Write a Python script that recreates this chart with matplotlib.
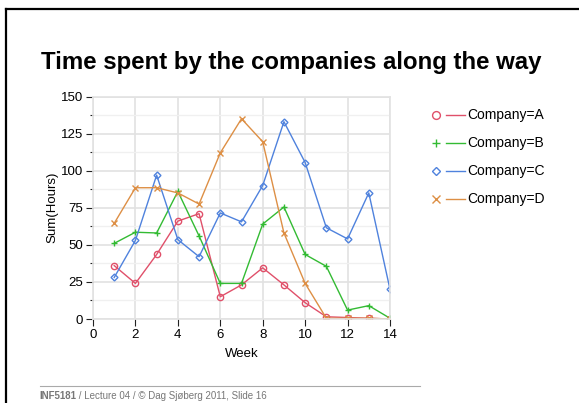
import matplotlib
matplotlib.use("Agg")
import matplotlib.pyplot as plt
from matplotlib.lines import Line2D
from matplotlib.ticker import MultipleLocator

plt.rcParams['font.family'] = ['Liberation Sans', 'DejaVu Sans']

weeks = [1, 2, 3, 4, 5, 6, 7, 8, 9, 10, 11, 12, 13, 14]
company_a = [36, 24, 43.5, 66, 71, 15, 23, 34.5, 23, 11, 1.5, 1, 0.5, 0]
company_b = [51, 58.5, 58, 86, 56, 24, 24, 64, 75.5, 43.5, 35.5, 6, 9, 0.5]
company_c = [28, 53, 97, 53.5, 42, 71.5, 65.5, 90, 133, 105.5, 61.5, 54, 85, 20]
company_d = [64.5, 88.5, 88.5, 85, 77.5, 112, 135, 119.5, 58, 24, 0.5, 0.5, 0.5, 0]

series = [
    ("Company=A", company_a, "#e0506a", "o"),
    ("Company=B", company_b, "#33bb33", "+"),
    ("Company=C", company_c, "#4f82dd", "D"),
    ("Company=D", company_d, "#dd8f45", "x"),
]


def marker_size(mk, big=False):
    base = 4.5 if mk != "D" else 3.5
    return base * (1.25 if big else 1.0)


fig = plt.figure(figsize=(5.79, 4.03), dpi=100)
W, H = 579, 403

# slide frame
fig.add_artist(Line2D([6 / W, 1.0], [1 - 9 / H, 1 - 9 / H], color="black", lw=1.6,
                      transform=fig.transFigure))
fig.add_artist(Line2D([6 / W, 6 / W], [1 - 9 / H, 0], color="black", lw=1.6,
                      transform=fig.transFigure))

fig.text(41 / W, 1 - 63 / H, "Time spent by the companies along the way",
         fontsize=17.3, fontweight="bold", va="center", ha="left")

ax = fig.add_axes([93 / W, 1 - 319 / H, (390 - 93) / W, (319 - 96.5) / H])
for name, vals, col, mk in series:
    ax.plot(weeks, vals, color=col, lw=1.0, marker=mk, ms=marker_size(mk),
            markerfacecolor="none", markeredgecolor=col, markeredgewidth=1.0,
            label=name)

ax.set_xlim(0, 14)
ax.set_ylim(0, 150)
ax.xaxis.set_major_locator(MultipleLocator(2))
ax.yaxis.set_major_locator(MultipleLocator(25))
ax.yaxis.set_minor_locator(MultipleLocator(12.5))
ax.grid(True, which="major", color="#e2e2e2", lw=1.2)
ax.grid(True, which="minor", axis="y", color="#f0f0f0", lw=1.0)
ax.set_axisbelow(True)
for s in ax.spines.values():
    s.set_color("#e2e2e2")
    s.set_linewidth(1.2)
ax.tick_params(axis="both", which="major", labelsize=9.5, color="#222222", width=0.8,
               length=5, pad=2)
ax.tick_params(axis="y", which="minor", length=2.5, color="#222222", width=0.8)
ax.set_xlabel("Week", fontsize=9.5, labelpad=5)
ax.set_ylabel("Sum(Hours)", fontsize=9.5, labelpad=2)

leg_y = [115, 143, 171, 199]
for (name, _, col, mk), y in zip(series, leg_y):
    yf = 1 - y / H
    fig.add_artist(Line2D([436 / W], [yf], marker=mk, ms=marker_size(mk, True),
                          markerfacecolor="none", markeredgecolor=col, lw=0,
                          transform=fig.transFigure))
    fig.add_artist(Line2D([446 / W, 465 / W], [yf, yf], color=col, lw=1.0,
                          transform=fig.transFigure))
    fig.text(467 / W, yf, name, fontsize=10, va="center", ha="left")

# footer
fig.add_artist(Line2D([40 / W, 420 / W], [1 - 385.5 / H] * 2, color="#aaaaaa", lw=0.8,
                      transform=fig.transFigure))
t1 = fig.text(39 / W, 1 - 396 / H, "INF5181", fontsize=7, fontweight="bold",
              color="#777777", va="center", ha="left")
renderer = fig.canvas.get_renderer()
x_end = t1.get_window_extent(renderer).x1 / W
fig.text(x_end, 1 - 396 / H, " / Lecture 04 / © Dag Sjøberg 2011, Slide 16",
         fontsize=7, color="#777777", va="center", ha="left")

fig.savefig("out.png", dpi=100)
